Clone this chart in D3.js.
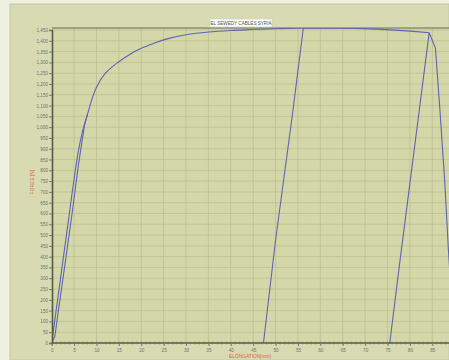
<!DOCTYPE html>
<html><head><meta charset="utf-8">
<script src="https://cdn.jsdelivr.net/npm/d3@7"></script>
<style>body{margin:0;background:#eef0e0;overflow:hidden}svg{display:block}</style>
</head><body><svg id="c" width="449" height="360"></svg>
<script>
const title = "EL SEWEDY CABLES SYRIA";
const xLabel = "ELONGATION[mm]";
const yLabel = "FORCE [N]";
const xTicks = [0,5,10,15,20,25,30,35,40,45,50,55,60,65,70,75,80,85];
const yTicks = d3.range(0,1451,50);
// traces: [elongation mm, force N]
const loadA = [[0,0],[1,152],[2,304],[3,456],[3.9,593],[5,760],[6,895],[7,990],[8,1060],[9,1130],[10,1185],[12,1250],[15,1303],[17.5,1338],[20,1365],[23,1390],[26,1410],[30,1428],[35,1441],[40,1448],[45,1452],[50,1456],[56,1460]];
const loadB = [[0,0],[0.7,30],[1.5,150],[3,370],[4.5,593],[6,830],[7.3,1005],[8,1060]];
const reload1 = [[47.3,0],[50,477],[53.7,1048],[56.2,1460],[63,1458],[68,1457],[72.7,1454],[80.2,1445],[84.3,1437]];
const reload2 = [[75.5,0],[77.8,384],[84.3,1437],[85.7,1366],[86.7,1079],[87.8,741],[88.6,431],[89.3,200]];
const traces = [loadB, loadA, reload1, reload2];

const svg = d3.select("#c");
svg.append("rect").attr("x",10).attr("y",4).attr("width",439).attr("height",356).attr("fill","#d8dbb2").attr("stroke","#c4c8a0");
const L=52, T=28, B=343, R=449;
const x = d3.scaleLinear().domain([0,85]).range([51.7,432.3]);
const y = d3.scaleLinear().domain([0,1450]).range([343,30]);
svg.append("rect").attr("x",L).attr("y",T).attr("width",R-L+2).attr("height",B-T).attr("fill","#d4d8a8");
const g = svg.append("g");
g.selectAll(".vg").data(xTicks.slice(1)).join("line")
 .attr("x1",d=>x(d)).attr("x2",d=>x(d)).attr("y1",T).attr("y2",B)
 .attr("stroke","#bcc093").attr("stroke-width",0.8);
g.selectAll(".hg").data(yTicks.slice(1)).join("line")
 .attr("x1",L).attr("x2",R+2).attr("y1",d=>y(d)).attr("y2",d=>y(d))
 .attr("stroke","#bcc093").attr("stroke-width",0.8);
svg.append("line").attr("x1",L).attr("x2",R+2).attr("y1",T).attr("y2",T).attr("stroke","#666a55").attr("stroke-width",1.2);
svg.append("clipPath").attr("id","cp").append("rect").attr("x",L).attr("y",T).attr("width",R-L+5).attr("height",B-T);
const line = d3.line().x(d=>x(d[0])).y(d=>y(d[1])).curve(d3.curveCatmullRom.alpha(0.5));
const lineL = d3.line().x(d=>x(d[0])).y(d=>y(d[1]));
svg.append("g").attr("clip-path","url(#cp)").selectAll("path").data(traces).join("path")
 .attr("d",(d,i)=> i===1 ? line(d) : lineL(d))
 .attr("fill","none").attr("stroke","#5f63b2").attr("stroke-width",1.1).attr("stroke-linejoin","round");

const ya = svg.append("g").attr("transform",`translate(${L},0)`)
 .call(d3.axisLeft(y).tickValues(yTicks).tickSize(3).tickFormat(d3.format(",")));
ya.select(".domain").attr("stroke","#555a45").attr("stroke-width",1.6);
ya.selectAll(".tick line").attr("stroke","#777");
ya.selectAll("text").attr("font-family","Arial, Liberation Sans, sans-serif").attr("font-size",4.6).attr("fill","#6f6f6f").attr("x",-4);
const xa = svg.append("g").attr("transform",`translate(0,${B})`)
 .call(d3.axisBottom(x).tickValues(xTicks).tickSize(3).tickSizeOuter(0));
xa.select(".domain").attr("stroke","#555a45").attr("stroke-width",1.6).attr("d",`M${L},0H${R+2}`);
xa.selectAll(".tick line").attr("stroke","#777");
xa.selectAll("text").attr("font-family","Arial, Liberation Sans, sans-serif").attr("font-size",4.6).attr("fill","#6f6f6f").attr("y",6);
svg.append("g").attr("transform",`translate(0,${B})`).selectAll("line").data(d3.range(0,89,1)).join("line")
 .attr("x1",d=>x(d)).attr("x2",d=>x(d)).attr("y1",-1.5).attr("y2",1.5).attr("stroke","#707560").attr("stroke-width",0.6);

svg.append("text").attr("x",250).attr("y",358).attr("text-anchor","middle")
 .attr("font-family","Arial, Liberation Sans, sans-serif").attr("font-size",4.8).attr("fill","#e0603c").text(xLabel);
svg.append("text").attr("transform","translate(34,182) rotate(-90)").attr("text-anchor","middle")
 .attr("font-family","Arial, Liberation Sans, sans-serif").attr("font-size",4.8).attr("fill","#e0603c").text(yLabel);
svg.append("rect").attr("x",210).attr("y",19).attr("width",62).attr("height",8).attr("fill","#fbfbf6").attr("stroke","#c8c8c0").attr("stroke-width",0.5);
svg.append("text").attr("x",241).attr("y",25).attr("text-anchor","middle")
 .attr("font-family","Arial, Liberation Sans, sans-serif").attr("font-size",4.6).attr("fill","#555").text(title);
</script></body></html>
